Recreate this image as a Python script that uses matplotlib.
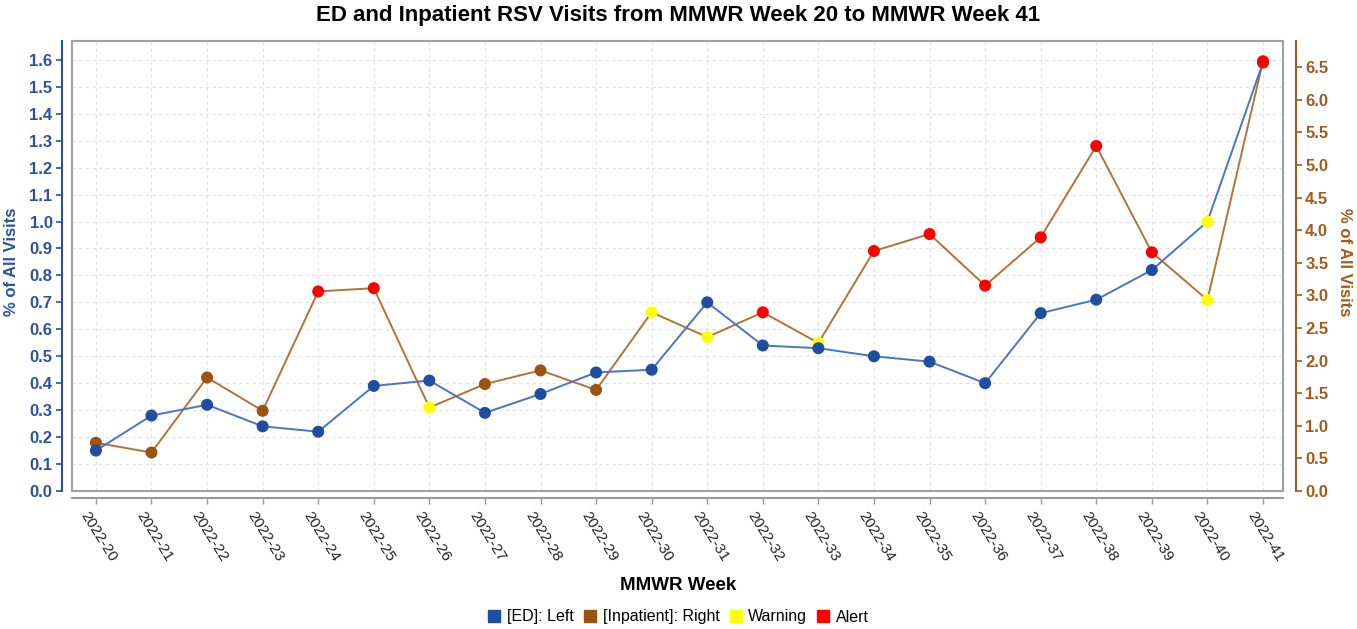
import numpy as np
import matplotlib
matplotlib.use('Agg')
import matplotlib.pyplot as plt
import matplotlib.transforms as mtransforms
from matplotlib.lines import Line2D
from matplotlib.patches import Rectangle

plt.rcParams['font.family'] = ['Liberation Sans', 'DejaVu Sans']

weeks = ['2022-%d' % w for w in range(20, 42)]

ed_values = [0.15, 0.28, 0.32, 0.24, 0.22, 0.39, 0.41, 0.29, 0.36, 0.44, 0.45,
             0.70, 0.54, 0.53, 0.50, 0.48, 0.40, 0.66, 0.71, 0.82, 1.00, 1.59]
ed_flags = ['n'] * 20 + ['w', 'a']

inpatient_values = [0.74, 0.59, 1.74, 1.23, 3.06, 3.11, 1.28, 1.64, 1.85, 1.55, 2.74,
                    2.36, 2.74, 2.27, 3.68, 3.94, 3.15, 3.89, 5.29, 3.66, 2.93, 6.59]
inpatient_flags = ['n', 'n', 'n', 'n', 'a', 'a', 'w', 'n', 'n', 'n', 'w',
                   'w', 'a', 'w', 'a', 'a', 'a', 'a', 'a', 'a', 'w', 'a']

left_ticks = np.arange(0, 1.65, 0.1)
right_ticks = np.arange(0, 6.55, 0.5)

BLUE_LINE = '#4a74c4'
BLUE_DOT = '#1f4da0'
BLUE_TXT = '#2c51a2'
BROWN_LINE = '#b37238'
BROWN_DOT = '#9a5412'
BROWN_TXT = '#a35a1c'
WARN = '#ffff00'
ALERT = '#ff0000'


def colours(flags, normal):
    return [{'n': normal, 'w': WARN, 'a': ALERT}[f] for f in flags]


W, H = 1357, 629
fig = plt.figure(figsize=(W / 100, H / 100), dpi=100)
# ax: grid + left axis, ax2: inpatient (right axis), ax3: ED drawn on top
ax = fig.add_axes([72 / W, (H - 491) / H, (1283 - 72) / W, (491 - 41) / H])
ax2 = ax.twinx()
ax3 = ax.twinx()

x = np.arange(len(weeks))

ax2.plot(x, inpatient_values, color=BROWN_LINE, lw=1.4, zorder=2)
ax2.scatter(x, inpatient_values, s=75, c=colours(inpatient_flags, BROWN_DOT), zorder=3, linewidths=0)
ax3.plot(x, ed_values, color=BLUE_LINE, lw=1.4, zorder=2)
ax3.scatter(x, ed_values, s=75, c=colours(ed_flags, BLUE_DOT), zorder=3, linewidths=0)

ax.set_xlim(-0.43, len(weeks) - 1 + 0.36)
ax.set_ylim(0, 1.67)
ax3.set_ylim(0, 1.67)
ax2.set_ylim(0, 6.9)

ax.grid(True, color='#e2e2e2', linestyle=(0, (3, 3)), lw=0.8)
ax.set_axisbelow(True)

for s in ('top', 'right'):
    ax.spines[s].set_visible(False)
for s in ('top', 'left', 'bottom'):
    ax2.spines[s].set_visible(False)
for s in ax3.spines.values():
    s.set_visible(False)
ax3.set_yticks([])
ax.spines['left'].set_position(('outward', 7))
ax.spines['left'].set_color(BLUE_TXT)
ax.spines['left'].set_linewidth(1.5)
ax.spines['bottom'].set_position(('outward', 5))
ax.spines['bottom'].set_color('#9a9a9a')
ax.spines['bottom'].set_linewidth(1.5)
ax2.spines['right'].set_position(('outward', 9))
ax2.spines['right'].set_color(BROWN_TXT)
ax2.spines['right'].set_linewidth(1.5)

ax.tick_params(axis='y', colors=BLUE_TXT, length=4, width=1.2, pad=3)
ax.tick_params(axis='x', colors='#9a9a9a', labelcolor='#222222', length=4, width=1, pad=4)
ax2.tick_params(axis='y', colors=BROWN_TXT, length=4, width=1.2, pad=3)

ax.set_xticks(x)
ax.set_xticklabels(weeks)
shift = mtransforms.ScaledTranslation(-6 / 100, 0, fig.dpi_scale_trans)
for t in ax.get_xticklabels():
    t.set_rotation(-58)
    t.set_rotation_mode('anchor')
    t.set_ha('left')
    t.set_va('top')
    t.set_fontsize(11)
    t.set_transform(t.get_transform() + shift)
ax.set_yticks(left_ticks)
ax.set_yticklabels(['%.1f' % v for v in left_ticks])
for t in ax.get_yticklabels():
    t.set_fontsize(12)
    t.set_fontweight('bold')
    t.set_color(BLUE_TXT)
ax2.set_yticks(right_ticks)
ax2.set_yticklabels(['%.1f' % v for v in right_ticks])
for t in ax2.get_yticklabels():
    t.set_fontsize(12)
    t.set_fontweight('bold')
    t.set_color(BROWN_TXT)

ax.add_patch(Rectangle((0, 0), 1, 1, transform=ax.transAxes, fill=False,
                       edgecolor='#a0a0a0', lw=1.5, clip_on=False, zorder=5))

fig.text(12 / W, 1 - 262 / H, '% of All Visits', rotation=90, ha='center', va='center',
         fontsize=12, fontweight='bold', color=BLUE_TXT)
fig.text(1344 / W, 1 - 262 / H, '% of All Visits', rotation=-90, ha='center', va='center',
         fontsize=12, fontweight='bold', color=BROWN_TXT)
fig.text(0.5, 1 - 585 / H, 'MMWR Week', ha='center', va='center', fontsize=13.5, fontweight='bold')
fig.text(0.5, 1 - 15 / H, 'ED and Inpatient RSV Visits from MMWR Week 20 to MMWR Week 41',
         ha='center', va='center', fontsize=16, fontweight='bold')

legend_items = [(BLUE_DOT, '[ED]: Left'), (BROWN_DOT, '[Inpatient]: Right'),
                (WARN, 'Warning'), (ALERT, 'Alert')]
handles = [Line2D([], [], marker='s', ls='', markersize=9, markerfacecolor=c,
                  markeredgecolor=c, label=l) for c, l in legend_items]
fig.legend(handles=handles, loc='center', bbox_to_anchor=(0.5, 1 - 617 / H), ncol=4,
           frameon=False, fontsize=11.5, handlelength=0.8, handletextpad=0.4, columnspacing=0.6)

fig.savefig('out.png', dpi=100)
